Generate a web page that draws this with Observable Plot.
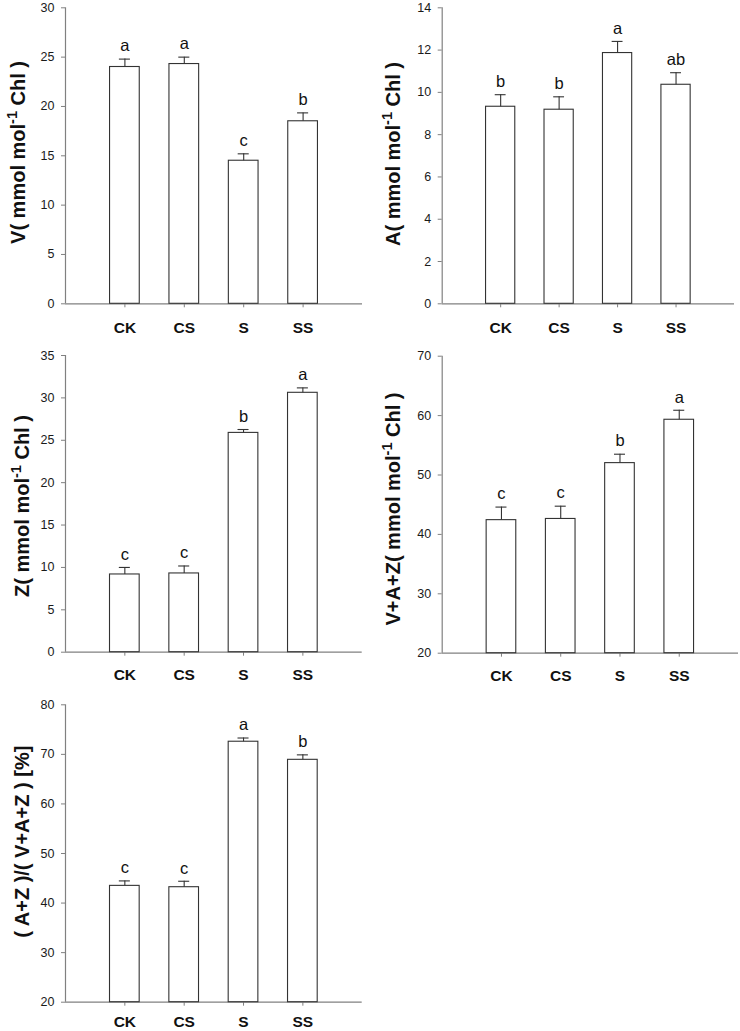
<!DOCTYPE html>
<html>
<head>
<meta charset="utf-8">
<script src="https://cdn.jsdelivr.net/npm/d3@7"></script>
<script src="https://cdn.jsdelivr.net/npm/@observablehq/plot@0.6"></script>
<style>
  html, body { margin: 0; padding: 0; background: #fff; }
  #wrap { position: relative; width: 740px; height: 1031px; background: #fff; overflow: hidden; }
  #wrap > div { position: absolute; }
  svg { overflow: visible; }
</style>
</head>
<body>
<div id="wrap"></div>
<script>
// ---------- data ----------
const categories = ["CK", "CS", "S", "SS"];

const vMean = [24.0, 24.3, 14.5, 18.5];
const vErr = [0.8, 0.7, 0.7, 0.85];
const vLetters = ["a", "a", "c", "b"];
const vTicks = [0, 5, 10, 15, 20, 25, 30];

const aMean = [9.32, 9.18, 11.86, 10.36];
const aErr = [0.57, 0.61, 0.55, 0.57];
const aLetters = ["b", "b", "a", "ab"];
const aTicks = [0, 2, 4, 6, 8, 10, 12, 14];

const zMean = [9.17, 9.29, 25.87, 30.6];
const zErr = [0.83, 0.88, 0.4, 0.58];
const zLetters = ["c", "c", "b", "a"];
const zTicks = [0, 5, 10, 15, 20, 25, 30, 35];

const vazMean = [42.4, 42.6, 52.0, 59.3];
const vazErr = [2.2, 2.15, 1.5, 1.6];
const vazLetters = ["c", "c", "b", "a"];
const vazTicks = [20, 30, 40, 50, 60, 70];

const ratioMean = [43.47, 43.2, 72.55, 68.9];
const ratioErr = [1.0, 1.2, 0.75, 1.0];
const ratioLetters = ["c", "c", "a", "b"];
const ratioTicks = [20, 30, 40, 50, 60, 70, 80];

// ---------- drawing ----------
const FONT = "'Liberation Sans', Arial, Helvetica, sans-serif";
const AXIS = "#808080";
const BAR = "#333333";

function panel(cfg) {
  const data = categories.map((c, i) => ({
    pos: i + 1, cat: c, v: cfg.mean[i], e: cfg.err[i], letter: cfg.letters[i]
  }));
  const y0 = cfg.ticks[0];
  const y1 = cfg.ticks[cfg.ticks.length - 1];
  const plot = Plot.plot({
    width: cfg.width,
    height: cfg.height,
    marginTop: cfg.mt,
    marginBottom: cfg.mb,
    marginLeft: cfg.ml,
    marginRight: cfg.mr,
    style: { fontFamily: FONT, background: "transparent", overflow: "visible" },
    x: { domain: [0, 5], axis: null },
    y: { domain: [y0, y1], axis: null },
    marks: [
      Plot.axisY(cfg.ticks, {
        tickSize: 4, tickPadding: 7, stroke: AXIS, fill: "#1a1a1a", label: null
      }),
      Plot.axisX([1, 2, 3, 4], {
        tickSize: 4, tickPadding: cfg.xpad, stroke: AXIS, fill: "#111",
        tickFormat: (d) => categories[d - 1], label: null
      }),
      Plot.ruleX([0], { stroke: AXIS, strokeWidth: 1.2 }),
      Plot.ruleY([y0], { stroke: AXIS, strokeWidth: 1.2 }),
      Plot.rectY(data, {
        x1: (d) => d.pos - 0.25, x2: (d) => d.pos + 0.25, y1: y0, y2: "v",
        fill: "white", stroke: BAR, strokeWidth: 1.1
      }),
      Plot.ruleX(data, { x: "pos", y1: "v", y2: (d) => d.v + d.e, stroke: BAR, strokeWidth: 1.1 }),
      Plot.ruleY(data, {
        y: (d) => d.v + d.e, x1: (d) => d.pos - 0.093, x2: (d) => d.pos + 0.093,
        stroke: BAR, strokeWidth: 1.1
      }),
      Plot.text(data, {
        x: "pos", y: (d) => d.v + d.e, text: "letter", dy: -13, lineAnchor: "middle",
        fontSize: 16.5, fill: "#111"
      })
    ]
  });
  const svg = d3.select(plot);
  svg.selectAll('g[aria-label="y-axis tick label"]')
    .style("font-size", "12.5px");
  svg.selectAll('g[aria-label="x-axis tick label"]')
    .style("font-size", "15.5px").style("font-weight", "bold");
  const t = svg.append("text")
    .attr("transform", `translate(${cfg.tx},${cfg.ty}) rotate(-90)`)
    .attr("text-anchor", "middle")
    .style("font-family", FONT)
    .style("font-size", "20px")
    .style("font-weight", "bold")
    .attr("fill", "#111");
  cfg.title.forEach((p) => {
    const ts = t.append("tspan").text(p.t);
    if (p.sup) ts.attr("baseline-shift", "super").style("font-size", "14.5px");
  });
  const holder = document.createElement("div");
  holder.style.left = cfg.left + "px";
  holder.style.top = cfg.top + "px";
  holder.appendChild(plot);
  document.getElementById("wrap").appendChild(holder);
}

const unitTitle = (prefix) => [
  { t: prefix + "( mmol mol" }, { t: "-1", sup: true }, { t: " Chl )" }
];

panel({
  mean: vMean, err: vErr, letters: vLetters, ticks: vTicks,
  left: 0, top: 0, width: 370, height: 340, mt: 7.3, mb: 36.7, ml: 65, mr: 8, xpad: 14.5,
  tx: 25, ty: 152.5, title: unitTitle("V")
});
panel({
  mean: aMean, err: aErr, letters: aLetters, ticks: aTicks,
  left: 370, top: 0, width: 370, height: 340, mt: 7.3, mb: 36.7, ml: 71.7, mr: 6, xpad: 14.5,
  tx: 30.2, ty: 154, title: unitTitle("A")
});
panel({
  mean: zMean, err: zErr, letters: zLetters, ticks: zTicks,
  left: 0, top: 340, width: 370, height: 340, mt: 15, mb: 28.3, ml: 65, mr: 8.3, xpad: 12.5,
  tx: 28.5, ty: 166, title: unitTitle("Z")
});
panel({
  mean: vazMean, err: vazErr, letters: vazLetters, ticks: vazTicks,
  left: 370, top: 340, width: 370, height: 340, mt: 15.7, mb: 27.3, ml: 71.7, mr: 2, xpad: 12.5,
  tx: 30.2, ty: 169, title: unitTitle("V+A+Z")
});
panel({
  mean: ratioMean, err: ratioErr, letters: ratioLetters, ticks: ratioTicks,
  left: 0, top: 680, width: 370, height: 351, mt: 24.3, mb: 29.3, ml: 65, mr: 8.3, xpad: 9.5,
  tx: 28.5, ty: 161.7, title: [{ t: "( A+Z )/( V+A+Z ) [%]" }]
});
</script>
</body>
</html>
